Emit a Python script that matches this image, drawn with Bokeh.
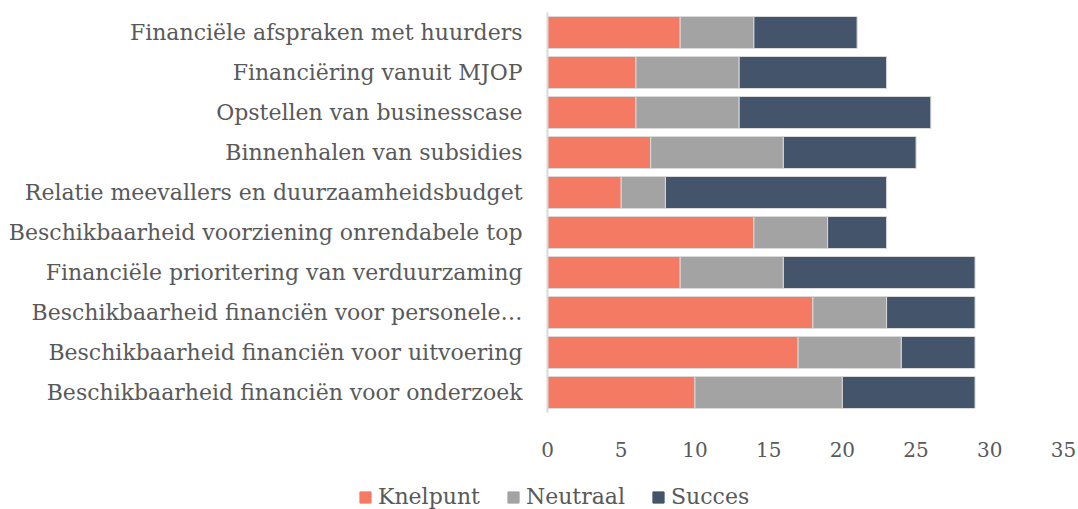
from bokeh.plotting import figure
from bokeh.models import FactorRange, Range1d, Legend, LegendItem, FixedTicker
from bokeh.embed import file_html
from bokeh.resources import INLINE

categories = [
    "Financiële afspraken met huurders",
    "Financiëring vanuit MJOP",
    "Opstellen van businesscase",
    "Binnenhalen van subsidies",
    "Relatie meevallers en duurzaamheidsbudget",
    "Beschikbaarheid voorziening onrendabele top",
    "Financiële prioritering van verduurzaming",
    "Beschikbaarheid financiën voor personele…",
    "Beschikbaarheid financiën voor uitvoering",
    "Beschikbaarheid financiën voor onderzoek",
]
knelpunt = [9, 6, 6, 7, 5, 14, 9, 18, 17, 10]
neutraal = [5, 7, 7, 9, 3, 5, 7, 5, 7, 10]
succes = [7, 10, 13, 9, 15, 4, 13, 6, 5, 9]
series = ["Knelpunt", "Neutraal", "Succes"]
colors = ["#F47A64", "#A3A3A3", "#44546A"]
x_ticks = [0, 5, 10, 15, 20, 25, 30, 35]

FONT = "DejaVu Serif"
TXT = "#595959"

data = dict(cat=categories, Knelpunt=knelpunt, Neutraal=neutraal, Succes=succes)

p = figure(
    frame_width=516, frame_height=400,
    y_range=FactorRange(*list(reversed(categories))),
    x_range=Range1d(0, 35),
    output_backend="svg", toolbar_location=None,
    min_border_left=547, min_border_right=15, min_border_top=12, min_border_bottom=71,
)
p.hbar_stack(series, y="cat", height=0.8, color=colors, source=data,
             line_color="#D9D9D9", line_width=1)

p.xgrid.visible = False
p.ygrid.visible = False
p.outline_line_color = None

p.xaxis.ticker = FixedTicker(ticks=x_ticks)
p.xaxis.axis_line_color = None
p.xaxis.major_tick_line_color = None
p.xaxis.minor_tick_line_color = None
p.xaxis.major_label_text_font = FONT
p.xaxis.major_label_text_font_size = "20px"
p.xaxis.major_label_text_color = TXT
p.xaxis.major_label_standoff = 23

p.yaxis.axis_line_color = "#D9D9D9"
p.yaxis.axis_line_width = 2
p.yaxis.major_tick_line_color = None
p.yaxis.minor_tick_line_color = None
p.yaxis.major_label_text_font = FONT
p.yaxis.major_label_text_font_size = "22px"
p.yaxis.major_label_text_color = TXT
p.yaxis.major_label_standoff = 19

# legend strip below the chart (separate root, so it is not frame-aligned)
pl = figure(
    width=1078, height=26, x_range=Range1d(0, 1), y_range=Range1d(0, 1),
    output_backend="svg", toolbar_location=None, min_border=0,
)
pl.axis.visible = False
pl.grid.visible = False
pl.outline_line_color = None
dummies = [pl.vbar(x=[-10], top=[-10], width=1, color=c) for c in colors]

legend = Legend(
    items=[LegendItem(label=s, renderers=[r]) for s, r in zip(series, dummies)],
    orientation="horizontal", location=(358, 0),
    label_text_font=FONT, label_text_font_size="22px", label_text_color=TXT,
    glyph_width=14, glyph_height=14, spacing=26, border_line_color=None,
    background_fill_alpha=0, padding=0, margin=0, label_standoff=6,
)
pl.add_layout(legend, "center")

open("out.html", "w").write(file_html([p, pl], INLINE))
